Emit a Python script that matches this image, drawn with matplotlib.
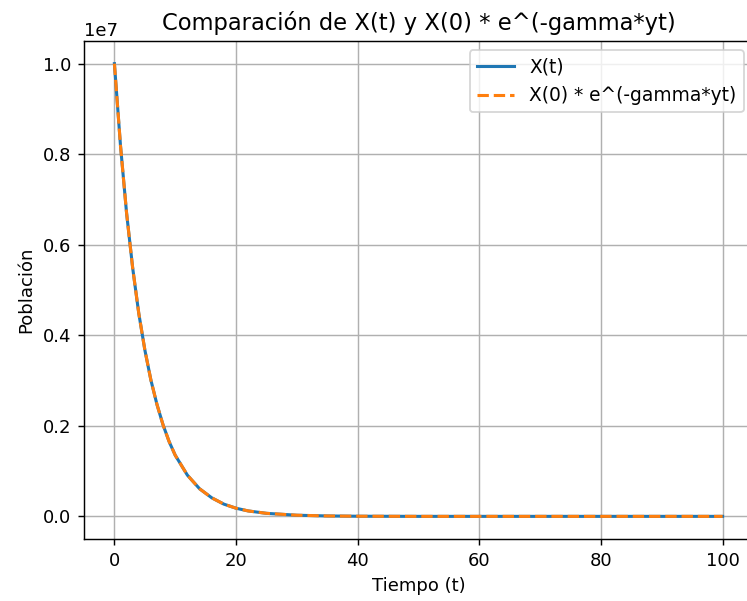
import numpy as np
import matplotlib
matplotlib.use("Agg")
import matplotlib.pyplot as plt


# values (population, in units of 1e7)
t = [0, 1, 2, 3, 4, 5, 6, 7, 8, 9, 10, 12, 14, 16, 18, 20, 22, 25,
     30, 35, 40, 50, 60, 70, 80, 90, 100]
x_t = [1.0, 0.819, 0.670, 0.549, 0.449, 0.368, 0.301, 0.247, 0.202, 0.165,
       0.135, 0.091, 0.061, 0.041, 0.027, 0.018, 0.012, 0.0067,
       0.0025, 0.0009, 0.0003, 0.0, 0.0, 0.0, 0.0, 0.0, 0.0]
x_exp = [1.0, 0.819, 0.670, 0.549, 0.449, 0.368, 0.301, 0.247, 0.202, 0.165,
         0.135, 0.091, 0.061, 0.041, 0.027, 0.018, 0.012, 0.0067,
         0.0025, 0.0009, 0.0003, 0.0, 0.0, 0.0, 0.0, 0.0, 0.0]

x_t = np.array(x_t) * 1e7
x_exp = np.array(x_exp) * 1e7

dpi = 130
fig = plt.figure(figsize=(747 / dpi, 601 / dpi), dpi=dpi)
ax = fig.add_axes([84 / 747, 62 / 601, 669 / 747, 498 / 601])

ax.plot(t, x_t, label="X(t)", linewidth=1.7)
ax.plot(t, x_exp, "--", label="X(0) * e^(-gamma*yt)", linewidth=1.7)

ax.set_xlabel("Tiempo (t)")
ax.set_ylabel("Población")
ax.set_title("Comparación de X(t) y X(0) * e^(-gamma*yt)", fontsize=12.5)
ax.legend(fontsize=10.3)
ax.grid(True)

plt.savefig("out.png", dpi=dpi)
